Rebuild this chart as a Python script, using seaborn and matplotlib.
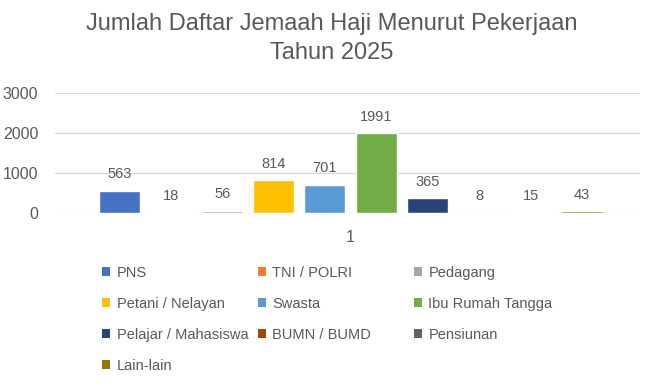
import matplotlib
matplotlib.use("Agg")
import matplotlib.pyplot as plt
from matplotlib.patches import Patch
import pandas as pd
import seaborn as sns

# data
pekerjaan = ["PNS", "TNI / POLRI", "Pedagang", "Petani / Nelayan", "Swasta",
             "Ibu Rumah Tangga", "Pelajar / Mahasiswa", "BUMN / BUMD",
             "Pensiunan", "Lain-lain"]
jumlah = [563, 18, 56, 814, 701, 1991, 365, 8, 15, 43]
kategori = ["1"] * len(pekerjaan)
warna = ["#4472C4", "#ED7D31", "#A5A5A5", "#FFC000", "#5B9BD5",
         "#70AD47", "#264478", "#9E480E", "#636363", "#997300"]
yticks = [0, 1000, 2000, 3000]

sns.set_theme(style="white")
plt.rcParams["font.family"] = ["Liberation Sans", "DejaVu Sans"]
grey = "#595959"

df = pd.DataFrame({"kategori": kategori, "pekerjaan": pekerjaan, "jumlah": jumlah})

fig = plt.figure(figsize=(6.63, 3.86), dpi=100)
ax = fig.add_axes([0.083, 0.448, 0.882, 0.311])

sns.barplot(data=df, x="kategori", y="jumlah", hue="pekerjaan",
            hue_order=pekerjaan, palette=warna, gap=0.2, width=0.8,
            legend=False, ax=ax, saturation=1)

for cont in ax.containers:
    ax.bar_label(cont, padding=7, fontsize=10.5, color=grey)

ax.set_ylim(0, 3000)
ax.set_yticks(yticks)
ax.set_xlim(-0.46, 0.45)
ax.yaxis.grid(True, color="#D9D9D9", linewidth=0.9)
ax.set_axisbelow(True)
for s in ax.spines.values():
    s.set_visible(False)
ax.set_xlabel("")
ax.set_ylabel("")
ax.tick_params(axis="both", labelsize=11.5, labelcolor=grey, length=0)
ax.tick_params(axis="x", pad=12)
ax.tick_params(axis="y", pad=12)

fig.text(0.5, 0.90, "Jumlah Daftar Jemaah Haji Menurut Pekerjaan\nTahun 2025",
         ha="center", va="center", fontsize=17, color=grey, linespacing=1.4)

# legend, row-major in three columns like Excel
col_x = [0.154, 0.389, 0.624]
for c in range(3):
    idx = list(range(c, len(pekerjaan), 3))
    handles = [Patch(facecolor=warna[i], edgecolor="none") for i in idx]
    labels = [pekerjaan[i] for i in idx]
    fig.legend(handles, labels, loc="upper left", bbox_to_anchor=(col_x[c], 0.312),
               frameon=False, fontsize=10.5, labelcolor=grey, handlelength=0.55,
               handleheight=0.55, handletextpad=0.45, labelspacing=1.17,
               borderpad=0, borderaxespad=0)

fig.savefig("out.png", dpi=100)
